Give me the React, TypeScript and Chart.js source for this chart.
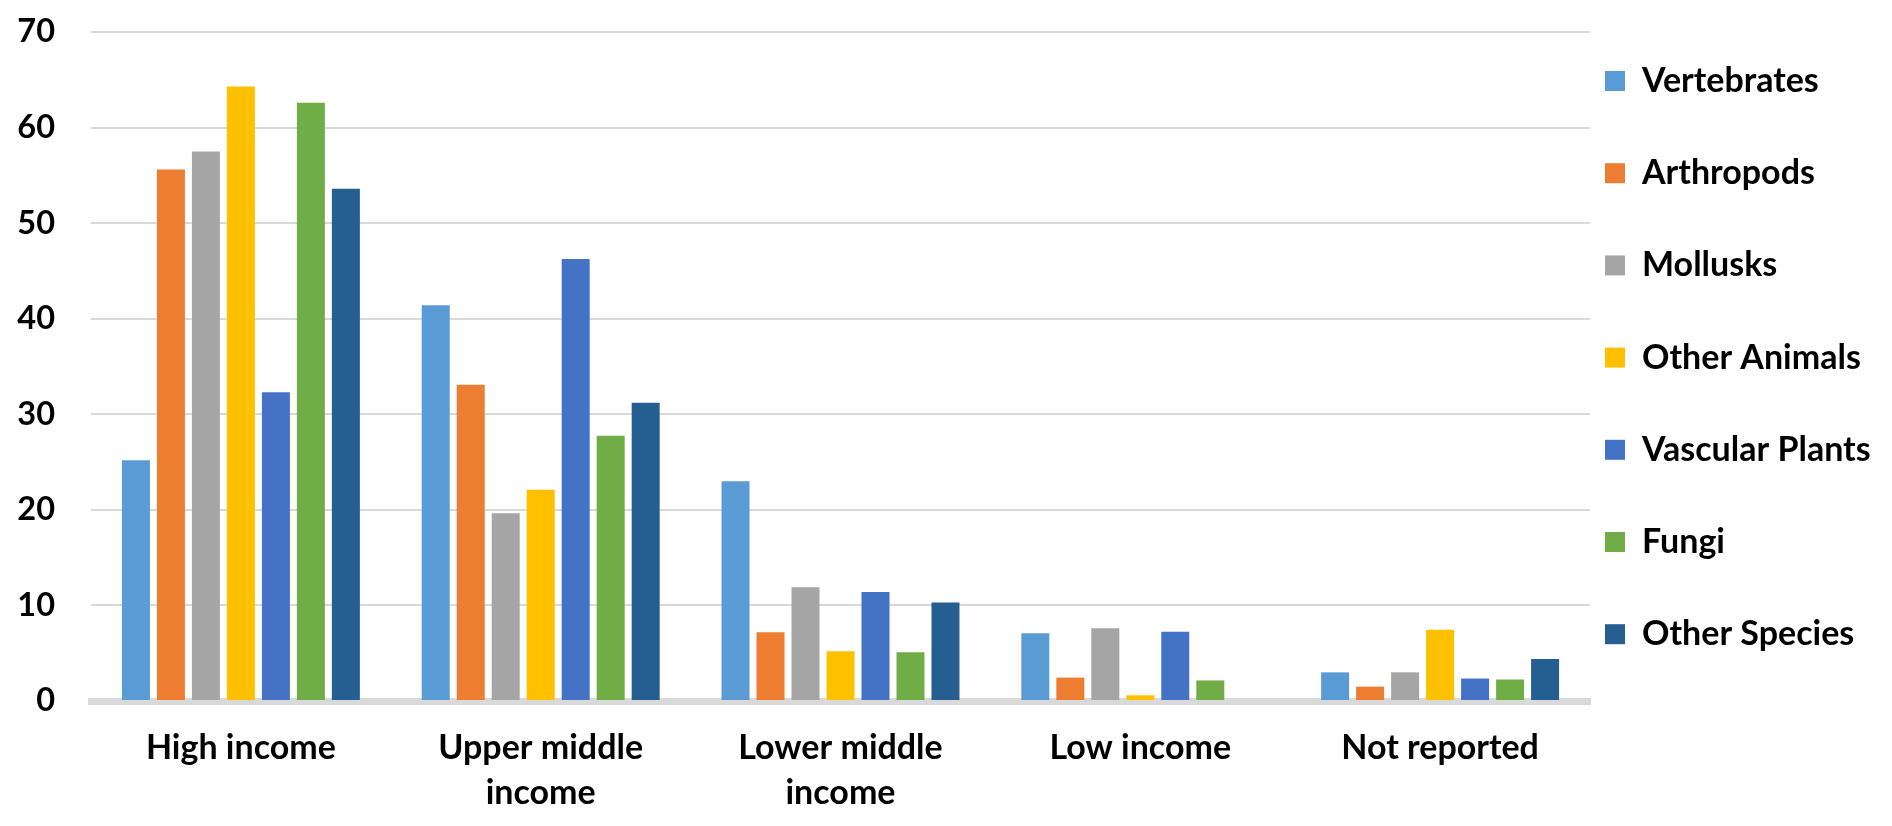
import React, { useEffect, useRef } from "react";
import { Chart, registerables } from "chart.js";

Chart.register(...registerables);

// ---- Data ----
const categories: (string | string[])[] = [
  "High income",
  ["Upper middle", "income"],
  ["Lower middle", "income"],
  "Low income",
  "Not reported",
];

const seriesNames = [
  "Vertebrates",
  "Arthropods",
  "Mollusks",
  "Other Animals",
  "Vascular Plants",
  "Fungi",
  "Other Species",
];

const vertebrates = [25.2, 41.4, 23.0, 7.1, 3.0];
const arthropods = [55.6, 33.1, 7.2, 2.45, 1.5];
const mollusks = [57.5, 19.65, 11.9, 7.6, 3.0];
const otherAnimals = [64.3, 22.1, 5.2, 0.6, 7.45];
const vascularPlants = [32.3, 46.25, 11.4, 7.25, 2.35];
const fungi = [62.6, 27.75, 5.1, 2.15, 2.25];
const otherSpecies = [53.6, 31.2, 10.3, 0, 4.4];

const seriesValues = [
  vertebrates,
  arthropods,
  mollusks,
  otherAnimals,
  vascularPlants,
  fungi,
  otherSpecies,
];

const seriesColors = [
  "#5B9BD5",
  "#ED7D31",
  "#A5A5A5",
  "#FFC000",
  "#4472C4",
  "#70AD47",
  "#255E91",
];

const yMin = 0;
const yMax = 70;
const yStep = 10;

// ---- Layout constants ----
const W = 1892;
const H = 826;
const LEGEND_WIDTH = 302;
const MAIN_FONT = "Lato, 'Noto Sans', sans-serif";

const legendWidthPlugin = {
  id: "legendWidthFix",
  beforeLayout(chart: any) {
    const lg = chart.legend;
    if (lg && !lg.__patched) {
      const orig = lg.fit;
      lg.fit = function () {
        orig.call(this);
        this.width = LEGEND_WIDTH;
      };
      lg.__patched = true;
    }
  },
};

export default function App() {
  const canvasRef = useRef<HTMLCanvasElement | null>(null);

  useEffect(() => {
    if (!canvasRef.current) return;
    const chart = new Chart(canvasRef.current, {
      type: "bar",
      data: {
        labels: categories as any,
        datasets: seriesNames.map((name, i) => ({
          label: name,
          data: seriesValues[i],
          backgroundColor: seriesColors[i],
          borderWidth: 0,
          categoryPercentage: 0.817,
          barPercentage: 0.8,
        })),
      },
      options: {
        responsive: false,
        animation: false,
        events: [],
        color: "#000",
        layout: {
          autoPadding: false,
          padding: { top: 32, left: 0, right: 0, bottom: 0 },
        },
        plugins: {
          tooltip: { enabled: false },
          legend: {
            position: "right",
            align: "start",
            title: {
              display: true,
              text: "",
              padding: 0,
              font: { size: 12, lineHeight: "17px" },
            },
            labels: {
              boxWidth: 20,
              boxHeight: 20,
              padding: 15,
              color: "#000",
              font: {
                family: MAIN_FONT,
                size: 34,
                weight: "bold",
                lineHeight: "77.2px",
              },
              generateLabels: (c: any) =>
                (Chart.defaults.plugins.legend.labels as any)
                  .generateLabels(c)
                  .map((l: any) => ({ ...l, text: [l.text] })),
            },
          },
        },
        scales: {
          x: {
            z: 1,
            grid: { display: false, drawTicks: false },
            border: { display: true, color: "#D9D9D9", width: 7 },
            ticks: {
              color: "#000",
              padding: 25,
              maxRotation: 0,
              autoSkip: false,
              font: {
                family: MAIN_FONT,
                size: 34,
                weight: "bold",
                lineHeight: "45px",
              },
            },
            afterFit: (scale: any) => {
              scale.height = 125;
            },
          },
          y: {
            min: yMin,
            max: yMax,
            grid: {
              color: "#D9D9D9",
              lineWidth: 2,
              drawTicks: true,
              tickLength: 36,
              tickColor: "rgba(0,0,0,0)",
            },
            border: { display: false },
            ticks: {
              stepSize: yStep,
              color: "#000",
              padding: 0,
              font: { family: MAIN_FONT, size: 32.5, weight: "bold" },
            },
            afterFit: (scale: any) => {
              scale.width = 91;
            },
          },
        },
      },
      plugins: [legendWidthPlugin],
    } as any);
    return () => chart.destroy();
  }, []);

  return (
    <div
      style={{
        position: "fixed",
        left: 0,
        top: 0,
        width: W,
        height: H,
        background: "#fff",
      }}
    >
      <canvas
        ref={canvasRef}
        width={W}
        height={H}
        style={{ width: W, height: H, display: "block" }}
      />
    </div>
  );
}
